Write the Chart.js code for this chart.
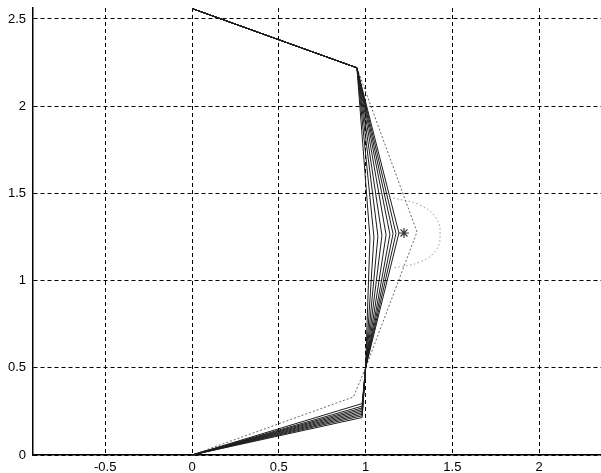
<!DOCTYPE html>
<html>
<head>
<meta charset="utf-8">
<script src="https://cdn.jsdelivr.net/npm/chart.js@4"></script>
<style>
html,body{margin:0;padding:0;background:#fff;}
#wrap{width:601px;height:473px;}
</style>
</head>
<body>
<div id="wrap"><canvas id="c" width="601" height="473"></canvas></div>
<script>
// tick labels
const xTicks = [-0.5, 0, 0.5, 1, 1.5, 2];
const yTicks = [0, 0.5, 1, 1.5, 2, 2.5];

// fixed joints of the linkage family
const topPt = [0, 2.56];
const kneePt = [0.95, 2.22];
const midPt = [1.0, 0.5];
const originPt = [0, 0];

// varying joints for each solid member of the family
const tipX = [1.025, 1.048, 1.071, 1.094, 1.118, 1.140, 1.158, 1.175, 1.192];
const tipY = [1.245, 1.250, 1.254, 1.258, 1.262, 1.265, 1.268, 1.270, 1.273];
const lowX = [0.98, 0.98, 0.98, 0.98, 0.98, 0.98, 0.98, 0.98, 0.98];
const lowY = [0.215, 0.225, 0.234, 0.243, 0.252, 0.261, 0.270, 0.280, 0.295];

// dotted target configuration
const dotTip = [1.296, 1.279];
const dotLow = [0.93, 0.333];

// star marker
const starPt = [1.221, 1.273];

// dotted arc
const arcX = [1.158, 1.313, 1.406, 1.429, 1.406, 1.313, 1.158];
const arcY = [1.474, 1.433, 1.359, 1.273, 1.175, 1.107, 1.072];

const P = (a) => ({x: a[0], y: a[1]});

const datasets = [];
for (let i = 0; i < tipX.length; i++) {
  datasets.push({
    data: [P(topPt), P(kneePt), {x: tipX[i], y: tipY[i]}, P(midPt), {x: lowX[i], y: lowY[i]}, P(originPt)],
    showLine: true, borderColor: '#1c1c1c', borderWidth: 1, pointRadius: 0, tension: 0, clip: false
  });
}
datasets.push({
  data: [P(topPt), P(kneePt), P(dotTip), P(midPt), P(dotLow), P(originPt)],
  showLine: true, borderColor: '#666', borderWidth: 1, borderDash: [2, 2], pointRadius: 0, tension: 0, clip: false
});
datasets.push({
  data: arcX.map((x, i) => ({x: x, y: arcY[i]})),
  showLine: true, borderColor: '#999', borderWidth: 1, borderDash: [1.5, 2.5], pointRadius: 0, tension: 0.45, clip: false
});
datasets.push({
  data: [P(starPt)],
  showLine: false, pointStyle: 'star', pointRadius: 5, pointBorderColor: '#333', pointBorderWidth: 1.2, pointBackgroundColor: '#333'
});

const font = {family: '"Liberation Sans", Arial, sans-serif', size: 13};
const fmt = (v) => String(v);

new Chart(document.getElementById('c'), {
  type: 'scatter',
  data: {datasets},
  options: {
    responsive: false,
    animation: false,
    devicePixelRatio: 1,
    layout: {autoPadding: false, padding: {top: 8, right: 0, left: 0, bottom: 0}},
    plugins: {legend: {display: false}, tooltip: {enabled: false}},
    scales: {
      x: {
        type: 'linear', min: -0.916, max: 2.356,
        afterBuildTicks: (s) => { s.ticks = xTicks.map(v => ({value: v})); },
        afterFit: (s) => { s.height = 18; s.paddingLeft = 0; s.paddingRight = 0; },
        ticks: {font, color: '#000', padding: 5, callback: fmt, maxRotation: 0, autoSkip: false},
        grid: {color: '#000', lineWidth: 1, drawTicks: false},
        border: {display: true, color: '#000', width: 1.5, dash: [4, 3]}
      },
      y: {
        type: 'linear', min: 0, max: 2.563,
        afterBuildTicks: (s) => { s.ticks = yTicks.map(v => ({value: v})); },
        afterFit: (s) => { s.width = 33; s.paddingTop = 0; s.paddingBottom = 0; },
        ticks: {font, color: '#000', padding: 7, callback: fmt, autoSkip: false},
        grid: {color: '#000', lineWidth: 1, drawTicks: false},
        border: {display: true, color: '#000', width: 1.5, dash: [4, 3]}
      }
    }
  }
});
</script>
</body>
</html>
